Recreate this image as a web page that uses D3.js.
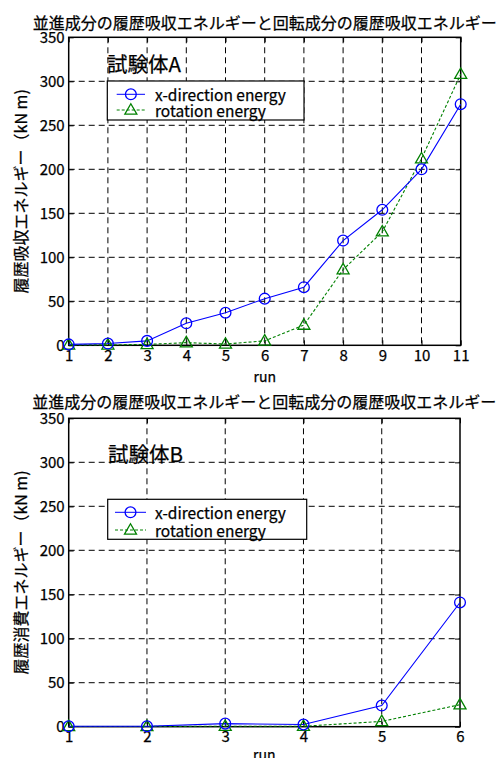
<!DOCTYPE html>
<html><head><meta charset="utf-8">
<script src="https://cdn.jsdelivr.net/npm/d3@7"></script>
<style>
html,body{margin:0;padding:0;background:#fff;}
svg{display:block;font-family:"Noto Sans CJK JP","Noto Sans",sans-serif;}
svg text{stroke:#000;stroke-width:0.25px;fill:#000;}
</style></head>
<body><svg id="c" width="497" height="758"></svg>
<script>
// ---- data ----
const titleText = "並進成分の履歴吸収エネルギーと回転成分の履歴吸収エネルギー";
const seriesNames = ["x-direction energy", "rotation energy"];
const yTicks = [0, 50, 100, 150, 200, 250, 300, 350];

const runsA = [1, 2, 3, 4, 5, 6, 7, 8, 9, 10, 11];
const xEnergyA = [1, 2, 5, 25, 37, 53, 66, 119, 154, 200, 274];
const rotEnergyA = [0.5, 0.5, 1, 3, 1.5, 5, 23, 86, 129, 212, 308];

const runsB = [1, 2, 3, 4, 5, 6];
const xEnergyB = [0.5, 0.5, 3.5, 2.5, 24, 141];
const rotEnergyB = [0.3, 0.3, 0.5, 0.5, 6, 25];

const svg = d3.select("#c");
const BLUE = "#0000ff", GREEN = "#008000";

function triPath(cx, cy, s) {
  const h = s * 0.87;
  return `M${cx},${cy - h * 0.6}L${cx + s / 2},${cy + h * 0.4}L${cx - s / 2},${cy + h * 0.4}Z`;
}

function drawChart(cfg) {
  const {runs, xe, re, left, right, top, bottom, titleY, xlabelY, specimen, specX, specY, ylabel, legend} = cfg;
  const g = svg.append("g");
  const x = d3.scaleLinear().domain([runs[0], runs[runs.length - 1]]).range([left, right]);
  const y = d3.scaleLinear().domain([0, 350]).range([bottom, top]);

  // grid
  g.append("g").selectAll("line.h").data(yTicks.filter(t => t > 0 && t < 350)).join("line")
    .attr("x1", left).attr("x2", right).attr("y1", d => y(d)).attr("y2", d => y(d))
    .attr("stroke", "#333").attr("stroke-width", 1.2).attr("stroke-dasharray", "6,4");
  g.append("g").selectAll("line.v").data(runs.slice(1, -1)).join("line")
    .attr("x1", d => x(d)).attr("x2", d => x(d)).attr("y1", top).attr("y2", bottom)
    .attr("stroke", "#000").attr("stroke-width", 1).attr("stroke-dasharray", "6,4");

  // axes with inward ticks
  const fs = "15px";
  const ax = g.append("g").attr("transform", `translate(0,${bottom})`)
    .call(d3.axisBottom(x).tickValues(runs).tickFormat(d3.format("d")).tickSizeInner(-5).tickSizeOuter(0).tickPadding(8));
  const ay = g.append("g").attr("transform", `translate(${left},0)`)
    .call(d3.axisLeft(y).tickValues(yTicks).tickSizeInner(-5).tickSizeOuter(0).tickPadding(4));
  const at = g.append("g").attr("transform", `translate(0,${top})`)
    .call(d3.axisTop(x).tickValues(runs).tickFormat("").tickSizeInner(-5).tickSizeOuter(0));
  const ar = g.append("g").attr("transform", `translate(${right},0)`)
    .call(d3.axisRight(y).tickValues(yTicks).tickFormat("").tickSizeInner(-5).tickSizeOuter(0));
  [ax, ay, at, ar].forEach(a => {
    a.select(".domain").remove();
    a.selectAll("line").attr("stroke", "#000");
    a.selectAll("text").attr("font-size", fs).attr("fill", "#000").attr("font-family", "'Noto Sans CJK JP',sans-serif");
  });
  ax.selectAll("text").attr("dy", "0.5em");
  ay.selectAll("text").attr("dy", "0.35em");

  g.append("rect").attr("x", left).attr("y", top).attr("width", right - left).attr("height", bottom - top)
    .attr("fill", "none").attr("stroke", "#000").attr("stroke-width", 1.5);

  // title
  g.append("text").attr("x", (left + right) / 2).attr("y", titleY).attr("text-anchor", "middle")
    .attr("dominant-baseline", "central").attr("font-size", "16px").text(titleText);
  // x label
  g.append("text").attr("x", (left + right) / 2).attr("y", xlabelY).attr("text-anchor", "middle")
    .attr("font-size", "14px").text("run");
  // y label
  g.append("text").attr("transform", `translate(20,${(top + bottom) / 2}) rotate(-90)`)
    .attr("text-anchor", "middle").attr("dominant-baseline", "central").attr("font-size", "16px").text(ylabel);
  // specimen label
  g.append("text").attr("x", specX).attr("y", specY).attr("dominant-baseline", "central")
    .attr("font-size", "20.5px").text(specimen);

  // series
  const line = d3.line().x(d => x(d[0])).y(d => y(d[1]));
  const dA = runs.map((r, i) => [r, xe[i]]);
  const dB = runs.map((r, i) => [r, re[i]]);
  g.append("path").datum(dB).attr("d", line).attr("fill", "none").attr("stroke", GREEN)
    .attr("stroke-width", 1.1).attr("stroke-dasharray", "3,2");
  g.append("path").datum(dA).attr("d", line).attr("fill", "none").attr("stroke", BLUE).attr("stroke-width", 1.1);
  g.append("g").selectAll("path").data(dB).join("path")
    .attr("d", d => triPath(x(d[0]), y(d[1]), 12)).attr("fill", "none").attr("stroke", GREEN).attr("stroke-width", 1.3);
  g.append("g").selectAll("circle").data(dA).join("circle")
    .attr("cx", d => x(d[0])).attr("cy", d => y(d[1])).attr("r", 5.4)
    .attr("fill", "none").attr("stroke", BLUE).attr("stroke-width", 1.3);

  // legend
  const L = legend;
  g.append("rect").attr("x", L.x0).attr("y", L.y0).attr("width", L.x1 - L.x0).attr("height", L.y1 - L.y0)
    .attr("fill", "#fff").attr("stroke", "#000").attr("stroke-width", 1.2);
  const mid = (L.l0 + L.l1) / 2;
  g.append("line").attr("x1", L.l0).attr("x2", L.l1).attr("y1", L.r0).attr("y2", L.r0).attr("stroke", BLUE);
  g.append("circle").attr("cx", mid).attr("cy", L.r0).attr("r", 5.4).attr("fill", "none").attr("stroke", BLUE).attr("stroke-width", 1.3);
  g.append("line").attr("x1", L.l0).attr("x2", L.l1).attr("y1", L.r1).attr("y2", L.r1).attr("stroke", GREEN).attr("stroke-dasharray", "3,2");
  g.append("path").attr("d", triPath(mid, L.r1, 12)).attr("fill", "none").attr("stroke", GREEN).attr("stroke-width", 1.3);
  g.append("text").attr("x", L.tx).attr("y", L.r0).attr("dominant-baseline", "central").attr("font-size", "15.5px").text(seriesNames[0]);
  g.append("text").attr("x", L.tx).attr("y", L.r1).attr("dominant-baseline", "central").attr("font-size", "15.5px").text(seriesNames[1]);
}

drawChart({
  runs: runsA, xe: xEnergyA, re: rotEnergyA,
  left: 68.7, right: 460.7, top: 37.3, bottom: 345.3, titleY: 21.7, xlabelY: 382,
  specimen: "試験体A", specX: 107, specY: 62.7,
  ylabel: "履歴吸収エネルギー（kN m)",
  legend: {x0: 107.3, x1: 304, y0: 81, y1: 120, r0: 94.3, r1: 110, l0: 116.7, l1: 145, tx: 155}
});
drawChart({
  runs: runsB, xe: xEnergyB, re: rotEnergyB,
  left: 68.7, right: 460, top: 418.3, bottom: 726.7, titleY: 400.8, xlabelY: 759.5,
  specimen: "試験体B", specX: 108, specY: 453,
  ylabel: "履歴消費エネルギー（kN m)",
  legend: {x0: 107.7, x1: 306.7, y0: 499.3, y1: 539.3, r0: 512.3, r1: 530, l0: 115, l1: 146, tx: 155}
});
</script></body></html>
